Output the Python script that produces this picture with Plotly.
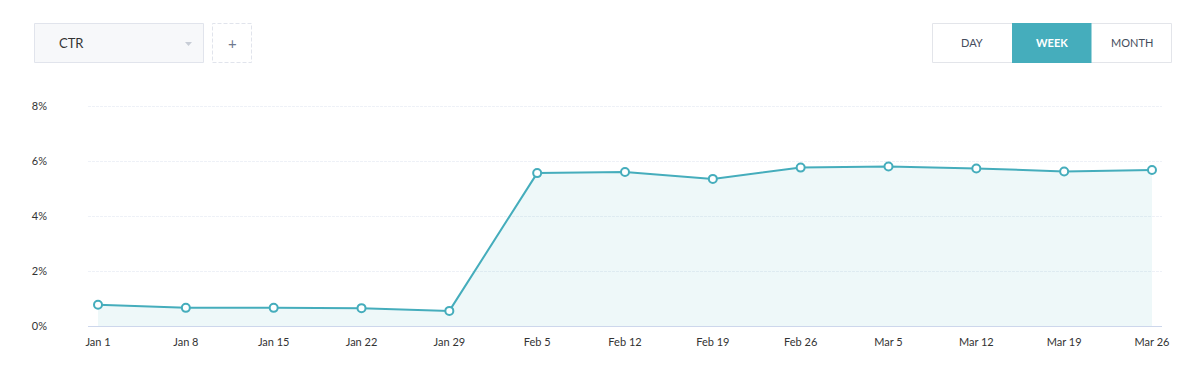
import plotly.graph_objects as go

categories = ["Jan 1", "Jan 8", "Jan 15", "Jan 22", "Jan 29", "Feb 5", "Feb 12",
              "Feb 19", "Feb 26", "Mar 5", "Mar 12", "Mar 19", "Mar 26"]
ctr_values = [0.77, 0.66, 0.66, 0.65, 0.55, 5.56, 5.60, 5.35, 5.76, 5.80, 5.73, 5.62, 5.67]
y_ticks = [0, 2, 4, 6, 8]
y_tick_labels = ["0%", "2%", "4%", "6%", "8%"]
period_buttons = ["DAY", "WEEK", "MONTH"]
metric_label = "CTR"

W, H = 1191, 381
L, R, T, B = 88, 29, 104, 55
PW, PH = W - L - R, H - T - B
Y_TOP = 8 * PH / 220.0  # 8% gridline sits at pixel 106

def px(x):
    return (x - L) / PW

def py(y):
    return (H - B - y) / PH

TEAL = "#45adbc"
FONT = "Lato, 'Open Sans', sans-serif"

xs = list(range(len(categories)))

fig = go.Figure()
fig.add_trace(go.Scatter(
    x=xs, y=ctr_values, mode="lines+markers",
    line=dict(color=TEAL, width=2),
    fill="tozeroy", fillcolor="rgba(69,173,188,0.09)",
    marker=dict(size=8, color="white", line=dict(color=TEAL, width=2)),
    hoverinfo="skip", showlegend=False,
))

shapes = []
annotations = []

# Metric dropdown
shapes.append(dict(type="rect", xref="paper", yref="paper",
                   x0=px(34.5), x1=px(203.5), y0=py(62.5), y1=py(23.5),
                   fillcolor="#f7f8fa", line=dict(color="#e1e4ec", width=1), layer="above"))
annotations.append(dict(xref="paper", yref="paper", x=px(57), y=py(43), text=metric_label,
                        showarrow=False, xanchor="left", yanchor="middle",
                        font=dict(family=FONT, size=13, color="#333")))
shapes.append(dict(type="path", xref="paper", yref="paper",
                   path=f"M {px(185)} {py(42)} L {px(192)} {py(42)} L {px(188.5)} {py(46)} Z",
                   fillcolor="#c8cdd6", line=dict(width=0), layer="above"))
# add box
shapes.append(dict(type="rect", xref="paper", yref="paper",
                   x0=px(212.5), x1=px(251.5), y0=py(62.5), y1=py(23.5),
                   fillcolor="white", line=dict(color="#e1e4ec", width=1, dash="4px,2px"), layer="above"))
annotations.append(dict(xref="paper", yref="paper", x=px(232), y=py(43), text="+",
                        showarrow=False, xanchor="center", yanchor="middle",
                        font=dict(family=FONT, size=15, color="#6f7a8f")))

# Period buttons
btn_edges = [932.5, 1012, 1091.5, 1171.5]
shapes.append(dict(type="rect", xref="paper", yref="paper",
                   x0=px(932.5), x1=px(1171.5), y0=py(62.5), y1=py(23.5),
                   fillcolor="white", line=dict(color="#e3e5ea", width=1), layer="above"))
for i, lab in enumerate(period_buttons):
    x0, x1 = btn_edges[i], btn_edges[i + 1]
    active = lab == "WEEK"
    if active:
        shapes.append(dict(type="rect", xref="paper", yref="paper",
                           x0=px(x0), x1=px(x1), y0=py(63), y1=py(23),
                           fillcolor=TEAL, line=dict(width=0), layer="above"))
    annotations.append(dict(xref="paper", yref="paper", x=px((x0 + x1) / 2), y=py(43),
                            text=f"<b>{lab}</b>" if active else lab,
                            showarrow=False, xanchor="center", yanchor="middle",
                            font=dict(family=FONT, size=11, color="white" if active else "#454d5c")))

fig.update_layout(
    width=W, height=H,
    margin=dict(l=L, r=R, t=T, b=B, pad=0),
    paper_bgcolor="white", plot_bgcolor="white",
    shapes=shapes, annotations=annotations,
    font=dict(family=FONT, size=11, color="#333"),
    xaxis=dict(
        range=[-0.114, len(categories) - 1 + 0.114],
        tickvals=xs, ticktext=categories,
        showgrid=False, zeroline=False,
        showline=True, linecolor="#cdd7ec", linewidth=1,
        ticks="", ticklabelstandoff=6,
        tickfont=dict(family=FONT, size=11, color="#333"),
        fixedrange=True,
    ),
    yaxis=dict(
        range=[0, Y_TOP],
        tickvals=y_ticks, ticktext=y_tick_labels,
        showgrid=True, gridcolor="#eef1f7", griddash="3px,1px", gridwidth=1,
        zeroline=False, showline=False,
        ticks="", ticklabelstandoff=40,
        tickfont=dict(family=FONT, size=11, color="#333"),
        fixedrange=True,
    ),
)

fig.write_html("out.html", config={"displayModeBar": False},
               post_script="document.body.style.margin='0';document.body.style.overflow='hidden';")
